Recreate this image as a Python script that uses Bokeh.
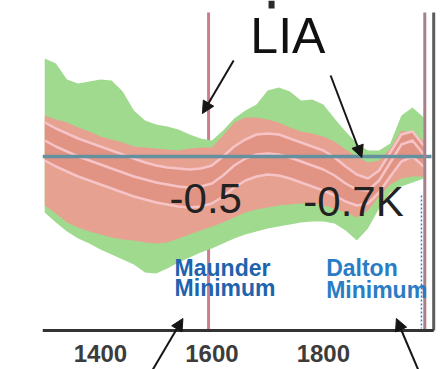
from bokeh.plotting import figure
from bokeh.models import Range1d, Arrow, NormalHead
from bokeh.core.properties import value
from bokeh.embed import file_html
from bokeh.resources import INLINE

# ---- data (temperature anomaly, K) ----
years = [1300, 1320, 1340, 1360, 1380, 1400, 1420, 1440, 1460, 1480, 1500, 1520,
         1540, 1560, 1580, 1600, 1620, 1640, 1660, 1680, 1700, 1720, 1740, 1760,
         1780, 1800, 1820, 1840, 1860, 1880, 1900, 1920, 1940, 1960, 1980]

green_top = [0.98, 0.93, 0.77, 0.73, 0.75, 0.77, 0.76, 0.65, 0.46, 0.36, 0.32, 0.30,
             0.27, 0.22, 0.18, 0.16, 0.26, 0.38, 0.46, 0.52, 0.66, 0.69, 0.65, 0.56,
             0.57, 0.52, 0.38, 0.25, 0.13, 0.06, 0.06, 0.13, 0.41, 0.49, 0.39]
green_bot = [-0.56, -0.66, -0.75, -0.82, -0.87, -0.93, -0.98, -1.03, -1.08, -1.16, -1.17, -1.12,
             -1.06, -1.01, -0.96, -0.92, -0.87, -0.82, -0.78, -0.75, -0.72, -0.70, -0.68, -0.66,
             -0.65, -0.65, -0.67, -0.74, -0.84, -0.72, -0.52, -0.36, -0.30, -0.26, -0.22]
red_top = [0.41, 0.37, 0.34, 0.29, 0.25, 0.20, 0.17, 0.14, 0.10, 0.09, 0.08, 0.07,
           0.06, 0.08, 0.09, 0.09, 0.21, 0.34, 0.39, 0.39, 0.37, 0.34, 0.29, 0.25,
           0.23, 0.20, 0.15, 0.07, 0.00, -0.06, -0.04, 0.08, 0.26, 0.23, 0.16]
red_bot = [-0.49, -0.57, -0.66, -0.71, -0.75, -0.78, -0.81, -0.83, -0.84, -0.86, -0.87, -0.86,
           -0.82, -0.78, -0.74, -0.70, -0.66, -0.61, -0.56, -0.53, -0.51, -0.49, -0.48, -0.47,
           -0.47, -0.49, -0.52, -0.56, -0.61, -0.54, -0.40, -0.28, -0.22, -0.20, -0.20]
mean_a = [0.34, 0.28, 0.23, 0.18, 0.14, 0.10, 0.06, 0.02, -0.02, -0.06, -0.09, -0.11,
          -0.12, -0.13, -0.12, -0.09, 0.00, 0.10, 0.17, 0.22, 0.23, 0.22, 0.18, 0.14,
          0.10, 0.06, -0.01, -0.10, -0.18, -0.22, -0.14, 0.04, 0.22, 0.25, 0.11]
mean_b = [0.16, 0.10, 0.05, 0.00, -0.04, -0.08, -0.12, -0.16, -0.20, -0.23, -0.26, -0.28,
          -0.30, -0.31, -0.30, -0.27, -0.19, -0.09, -0.02, 0.02, 0.03, 0.02, -0.01, -0.05,
          -0.09, -0.13, -0.19, -0.27, -0.33, -0.34, -0.24, -0.06, 0.12, 0.16, 0.02]
mean_c = [-0.04, -0.10, -0.15, -0.20, -0.24, -0.28, -0.32, -0.36, -0.40, -0.43, -0.46, -0.48,
          -0.50, -0.51, -0.50, -0.47, -0.40, -0.31, -0.24, -0.20, -0.18, -0.19, -0.22, -0.26,
          -0.30, -0.34, -0.39, -0.45, -0.49, -0.47, -0.36, -0.20, -0.05, 0.00, -0.10]

reference_level = 0.0          # blue horizontal line
maunder_year = 1594            # red vertical line
end_years = [1982, 1998]       # right-hand vertical lines
tick_years = [1400, 1600, 1800]
tick_labels = ["1400", "1600", "1800"]

big_labels = ["LIA", "-0.5", "-0.7K"]
minima_labels = ["Maunder", "Minimum", "Dalton", "Minimum"]

X0, X1 = 1296, 2003
Y0, Y1 = -2.13, 1.56
AXIS_Y = -1.74

# ---- figure ----
p = figure(width=445, height=369, output_backend="svg", toolbar_location=None,
           x_range=Range1d(X0, X1), y_range=Range1d(Y0, Y1),
           x_axis_location=None, y_axis_location=None,
           min_border_left=42, min_border_right=9, min_border_top=0, min_border_bottom=0)
p.outline_line_color = None
p.xgrid.visible = False
p.ygrid.visible = False
p.background_fill_color = "white"

# fragment of a heading cut off at the top edge
p.segment(x0=[1707], y0=[1.56], x1=[1707], y1=[1.48], line_color="#2a2a2a", line_width=6)

# vertical red line (behind bands)
p.segment(x0=[maunder_year], y0=[AXIS_Y], x1=[maunder_year], y1=[1.44],
          line_color="#cc7d8e", line_width=3)

# bands
p.varea(x=years, y1=green_bot, y2=green_top, fill_color="#a0da8f")
p.varea(x=years, y1=red_bot, y2=red_top, fill_color="#e6a190")
p.varea(x=years, y1=mean_c, y2=mean_a, fill_color="#dc8b7a", fill_alpha=0.55)
for m in (mean_a, mean_b, mean_c):
    p.line(years, m, line_color="#f6c3c6", line_width=2.5)

# blue reference line
p.segment(x0=[X0], y0=[reference_level], x1=[1994], y1=[reference_level],
          line_color="#64909f", line_width=3.5)

# right-hand vertical lines
p.segment(x0=[1976], y0=[-0.39], x1=[1976], y1=[-1.72],
          line_color="#3a80c8", line_width=1.5, line_dash="2 2")
p.segment(x0=[end_years[0]], y0=[AXIS_Y], x1=[end_years[0]], y1=[1.44],
          line_color="#a88089", line_width=3)
p.segment(x0=[end_years[1]], y0=[AXIS_Y], x1=[end_years[1]], y1=[1.44],
          line_color="#5c5c5c", line_width=3)

# time axis: baseline and tick labels
p.segment(x0=[X0], y0=[AXIS_Y], x1=[end_years[1]], y1=[AXIS_Y],
          line_color="#333333", line_width=3)
p.text(x=tick_years, y=[-1.97] * len(tick_years), text=tick_labels,
       text_font=value("Liberation Sans"), text_font_style="bold",
       text_font_size="24px", text_color="#3c3c3c",
       text_align="center", text_baseline="alphabetic")

# texts
p.text(x=[1669], y=[1.21], text=[big_labels[0]], text_font=value("Liberation Sans"),
       text_font_size="50px", text_color="#111111", text_baseline="alphabetic")
p.text(x=[1524, 1764], y=[-0.42, -0.45], text=big_labels[1:],
       text_font=value("Liberation Sans"), text_font_size="42px",
       text_color="#222222", text_baseline="alphabetic")
p.text(x=[1533, 1533], y=[-1.11, -1.31], text=minima_labels[:2],
       text_font=value("Liberation Sans"), text_font_style="bold",
       text_font_size="23px", text_color="#1d63ad", text_baseline="alphabetic")
p.text(x=[1805, 1805], y=[-1.11, -1.33], text=minima_labels[2:],
       text_font=value("Liberation Sans"), text_font_style="bold",
       text_font_size="23px", text_color="#2a7cc4", text_baseline="alphabetic")

# arrows
for xs, ys, xe, ye in [(1639, 0.96, 1583, 0.43), (1813, 0.81, 1869, -0.01),
                       (1494, -2.13, 1548, -1.62), (1970, -2.13, 1931, -1.62)]:
    p.add_layout(Arrow(end=NormalHead(size=12, fill_color="#151515", line_color="#151515"),
                       x_start=xs, y_start=ys, x_end=xe, y_end=ye,
                       line_color="#151515", line_width=2))

open("out.html", "w").write(file_html(p, INLINE))
